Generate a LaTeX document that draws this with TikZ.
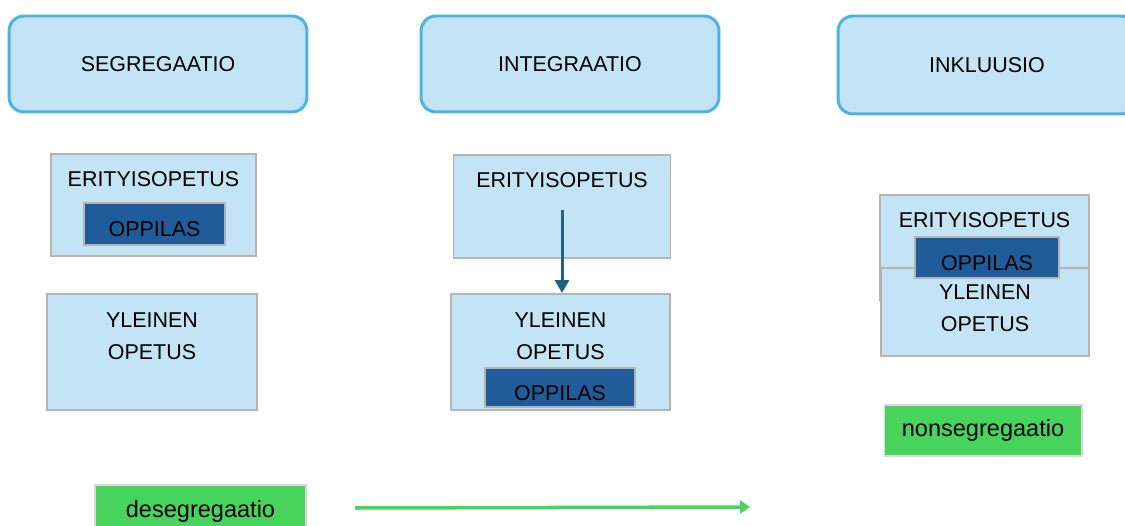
\documentclass[tikz,border=0pt]{standalone}
\usepackage{fontspec}
\setmainfont{Liberation Sans}
\usetikzlibrary{arrows.meta, positioning}
\definecolor{paleblue}{HTML}{C2E4F4}
\definecolor{phaseblue}{HTML}{4DB3E2}
\definecolor{boxgray}{HTML}{B4B4B4}
\definecolor{pupilblue}{HTML}{1F5C99}
\definecolor{tagreen}{HTML}{47D35C}
\definecolor{moveteal}{HTML}{1E6485}

\begin{document}
\begin{tikzpicture}[x=0.02cm, y=-0.02cm, >=Triangle,
  phase/.style={draw=phaseblue, line width=1.7pt, fill=paleblue, rounded corners=0.3cm,
    minimum width=5.96cm, minimum height=1.92cm, font=\fontsize{12.2}{14}\selectfont},
  teach/.style={draw=boxgray, line width=1.1pt, fill=paleblue},
  caption/.style={anchor=north, inner sep=0pt, align=center, yshift=-0.37cm,
    font=\fontsize{12.2}{18.2}\selectfont},
  pupil/.style={draw=boxgray, line width=1.1pt, fill=pupilblue, inner sep=0pt,
    text height=15pt, text depth=0.2pt, font=\fontsize{12.2}{14}\selectfont},
  tag/.style={draw=boxgray!50, line width=0.6pt, fill=tagreen,
    font=\fontsize{13.4}{15}\selectfont}]
  \useasboundingbox (0,0) rectangle (1125,526);

  % phases
  \node [phase] (seg) at (158,64) {SEGREGAATIO};
  \node [phase] (integ) at (570,64) {INTEGRAATIO};
  \node [phase, minimum height=1.96cm] (inkl) at (987,65) {INKLUUSIO};

  % segregaatio
  \node [teach, minimum width=4.1cm, minimum height=2.04cm,
    label={[caption]north:ERITYISOPETUS}] (er1) at (153.5,205) {};
  \node [pupil, minimum width=2.82cm, minimum height=0.84cm] (op1) at (154.5,224) {OPPILAS};
  \node [teach, minimum width=4.2cm, minimum height=2.32cm,
    label={[caption, yshift=-0.02cm]north:YLEINEN\\OPETUS}] (yl1) at (152,352) {};

  % integraatio
  \node [teach, minimum width=4.34cm, minimum height=2.06cm,
    label={[caption]north:ERITYISOPETUS}] (er2) at (562,206.5) {};
  \node [teach, minimum width=4.38cm, minimum height=2.32cm,
    label={[caption, yshift=-0.02cm]north:YLEINEN\\OPETUS}] (yl2) at (560.5,352) {};
  \node [pupil, minimum width=3cm, minimum height=0.78cm] (op2) at (560,387.5) {OPPILAS};
  \draw [-{Triangle[width=0.28cm, length=0.26cm]}, moveteal, line width=1.7pt,
    shorten <=0.07cm] (er2.center) -- (er2.center |- yl2.north);

  % inkluusio
  \node [teach, minimum width=4.18cm, minimum height=2.1cm,
    label={[caption]north:ERITYISOPETUS}] (er3) at (984.5,247.5) {};
  \node [teach, minimum width=4.16cm, minimum height=1.76cm,
    label={[caption, yshift=0.02cm]north:YLEINEN\\OPETUS}] (yl3) at (985,312) {};
  \node [pupil, minimum width=2.88cm, minimum height=0.82cm] (op3) at (987,257.5) {OPPILAS};
  \node [tag, minimum width=3.96cm, minimum height=1.02cm] (non) at (983,430.5) {nonsegregaatio};

  % desegregaatio
  \node [tag, minimum width=4.22cm, minimum height=1.04cm] (des) at (200.5,511) {desegregaatio};
  \coordinate (trendstart) at (355,508);
  \coordinate (trendend) at (750,507);
  \draw [-{Triangle[width=0.26cm, length=0.2cm]}, tagreen, line width=2pt]
    (trendstart) -- (trendend);
\end{tikzpicture}
\end{document}
